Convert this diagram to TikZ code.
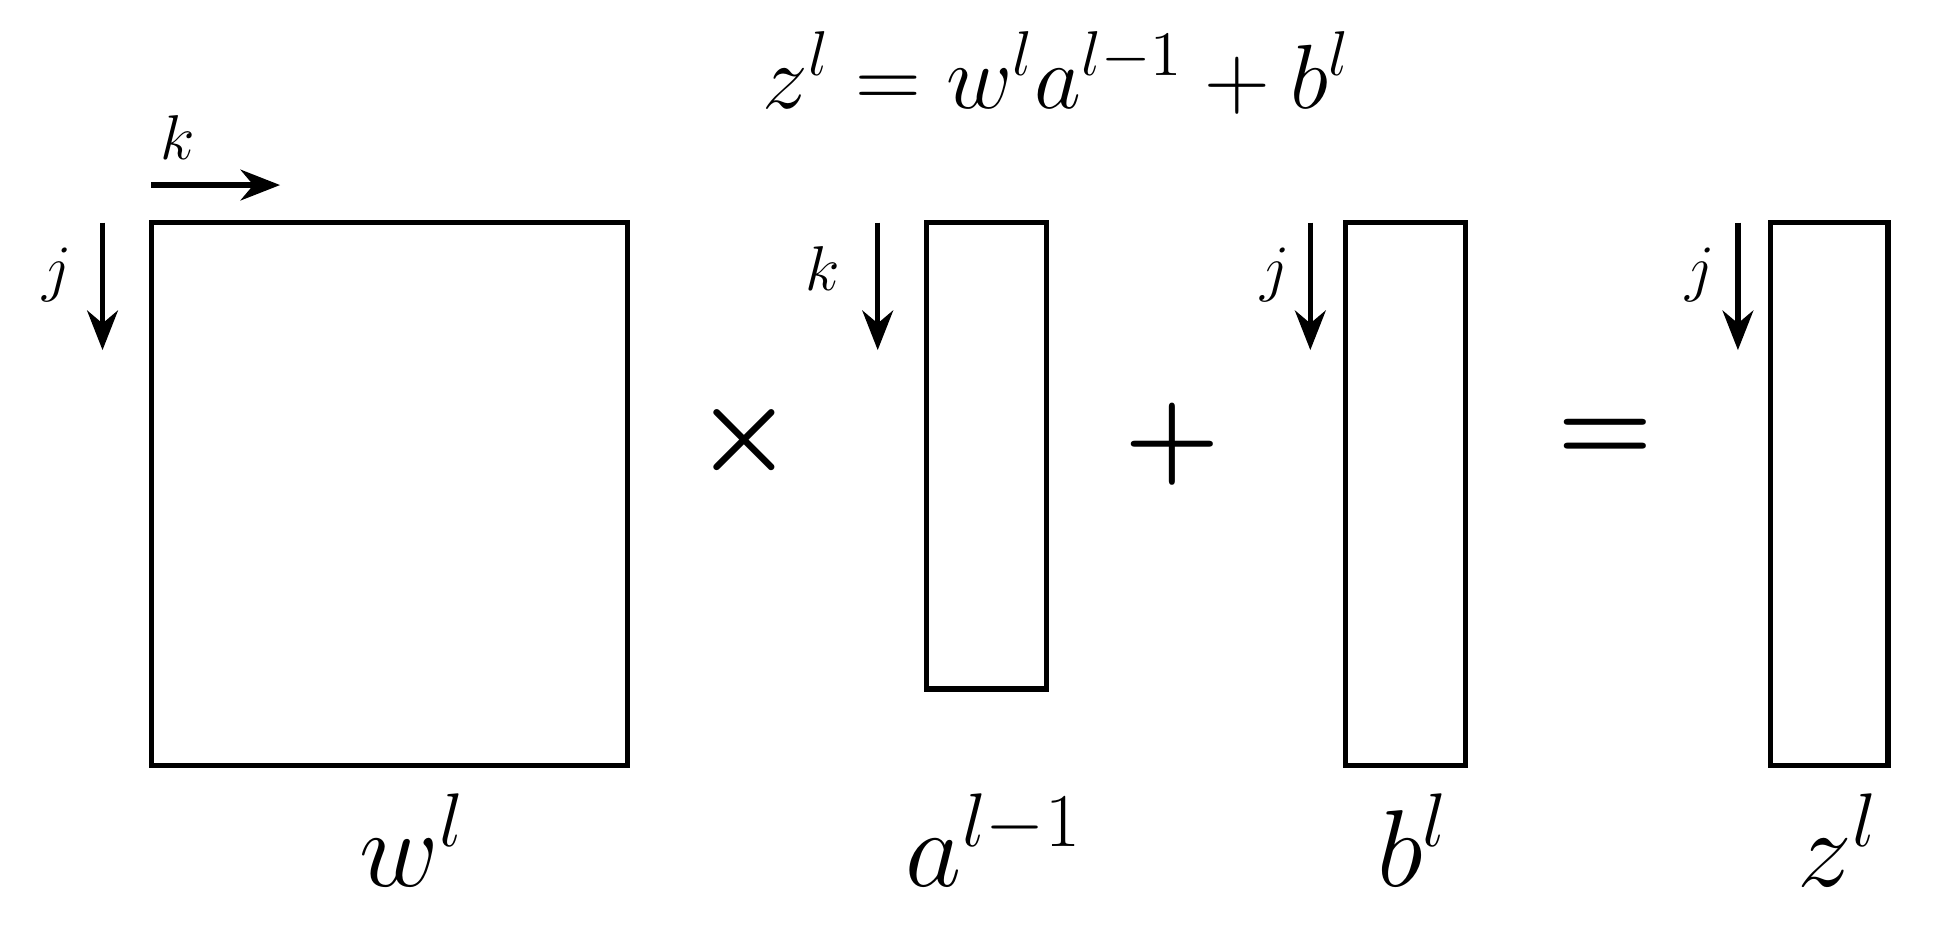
\documentclass[tikz,border=0pt]{standalone}
\usetikzlibrary{arrows.meta}
\begin{document}
\begin{tikzpicture}[x=0.01cm,y=-0.01cm,
  box/.style={line width=1.2pt},
  idx/.style={line width=1.2pt,-{Stealth[length=9pt,width=7pt]}},
  small/.style={font=\fontsize{15}{18}\selectfont},
  big/.style={font=\fontsize{23}{28}\selectfont},
  op/.style={font=\fontsize{44}{50}\selectfont\boldmath}]
\useasboundingbox (0,0) rectangle (1562,760);
\node[font=\fontsize{21}{25}\selectfont] (title) at (845,58) {$z^l = w^l a^{l-1} + b^l$};
\draw[box] (121,178) rectangle (502,612) coordinate (W);
\draw[box] (741,178) rectangle (837,551);
\draw[box] (1076,178) rectangle (1172,612);
\draw[box] (1416,178) rectangle (1510,612);
\coordinate (k0) at (121,148); \coordinate (k1) at (224,148);
\draw[idx] (k0) -- (k1);
\node[small] (kl) at (142,110) {$k$};
\coordinate (j0) at (82,178); \coordinate (j1) at (82,280);
\draw[idx] (j0) -- (j1); \node[small] (jl) at (46,220) {$j$};
\coordinate (a0) at (702,178); \coordinate (a1) at (702,280);
\draw[idx] (a0) -- (a1); \node[small] (kl2) at (658,215) {$k$};
\coordinate (b0) at (1048,178); \coordinate (b1) at (1048,280);
\draw[idx] (b0) -- (b1); \node[small] (jl2) at (1020,220) {$j$};
\coordinate (z0) at (1390,178); \coordinate (z1) at (1390,280);
\draw[idx] (z0) -- (z1); \node[small] (jl3) at (1360,220) {$j$};
\node[op] (times) at (595,352) {$\times$};
\node[op] (plus) at (938,355) {$+$};
\node[op] (eq) at (1284,352) {$=$};
\node[big] (wl) at (330,672) {$w^l$};
\node[big] (al) at (795,672) {$a^{l-1}$};
\node[big] (bl) at (1130,672) {$b^l$};
\node[big] (zl) at (1470,672) {$z^l$};
\end{tikzpicture}
\end{document}
